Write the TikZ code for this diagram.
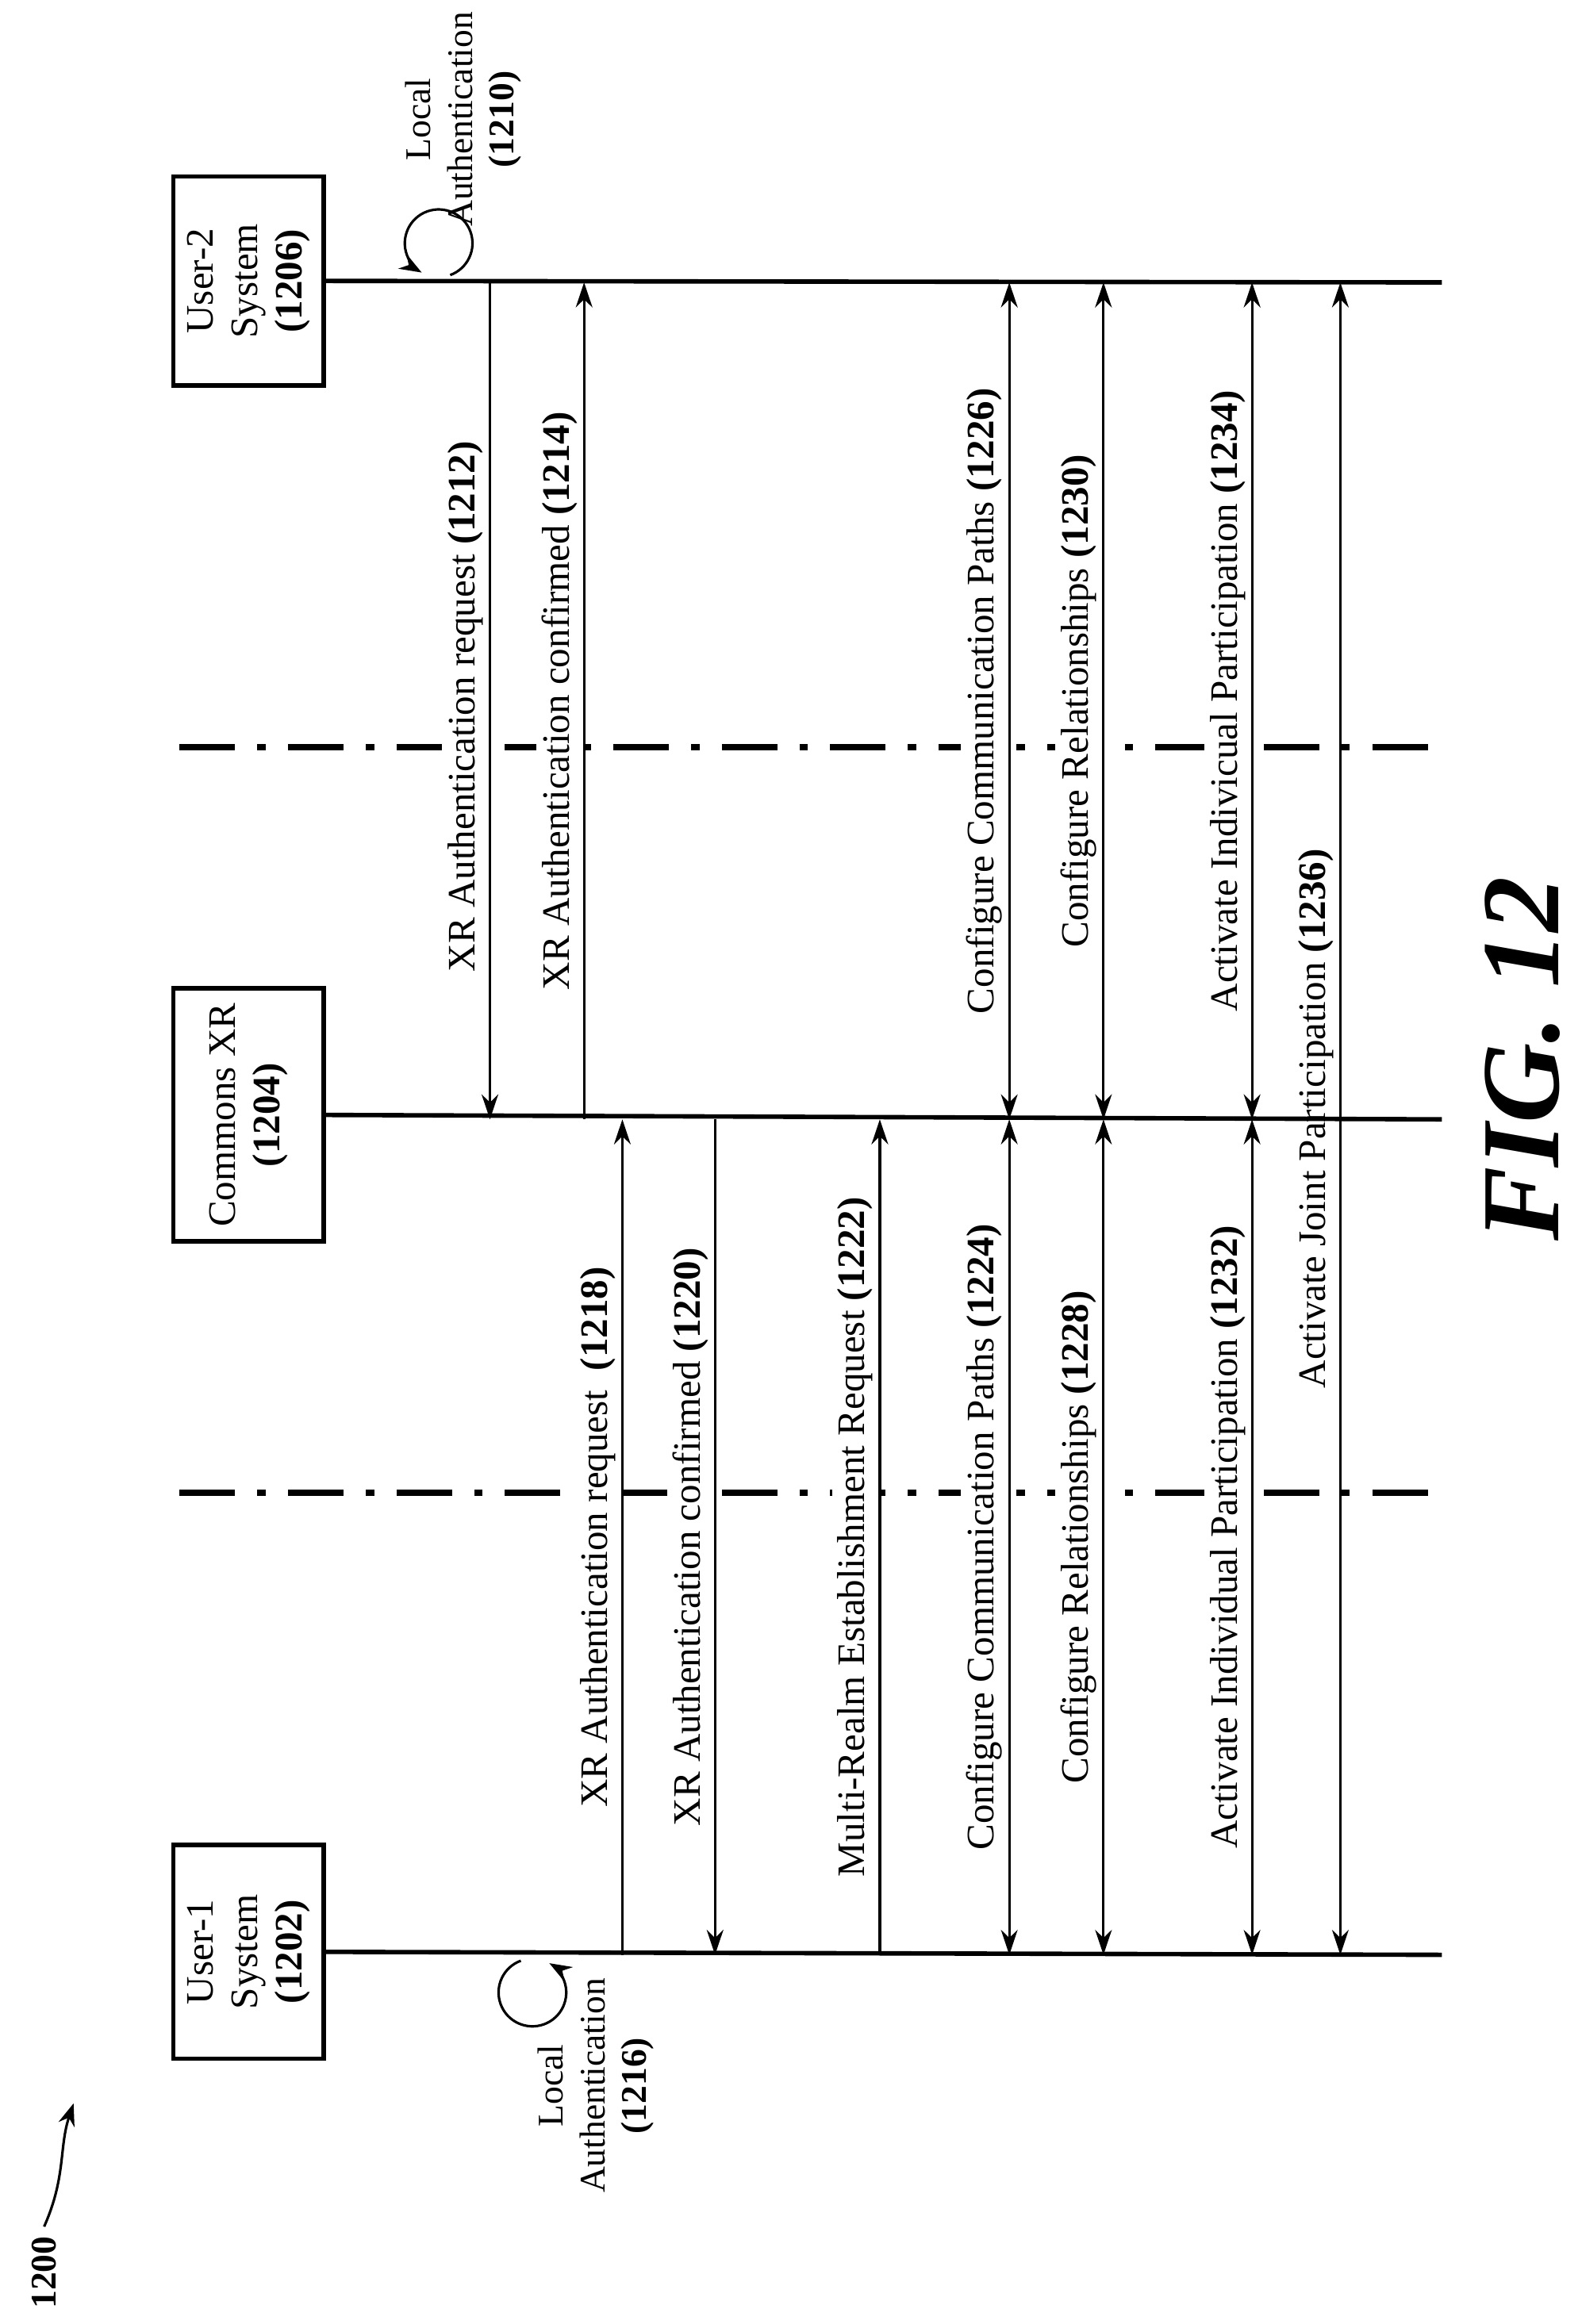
\documentclass[tikz,border=0pt]{standalone}
\usepackage{fontspec}
\setmainfont{Liberation Serif}
\usetikzlibrary{arrows.meta}

\begin{document}
\begin{tikzpicture}[x=0.0186cm,y=-0.0186cm,
  lbl/.style={rotate=90,font=\fontsize{14}{16}\selectfont,fill=white,inner sep=2pt},
  actor/.style={draw,line width=1.6pt,rotate=90,align=center,minimum height=1.9cm,font=\fontsize{14}{16}\selectfont},
  life/.style={line width=1.6pt},
  msg/.style={line width=0.9pt,-{Stealth[length=9pt,width=6pt]}},
  both/.style={line width=0.9pt,{Stealth[length=9pt,width=6pt]}-{Stealth[length=9pt,width=6pt]}},
  sep/.style={line width=2.2pt,dash pattern=on 20pt off 8pt on 3pt off 8pt}]
\useasboundingbox (0,0) rectangle (1075,1580);
% actors
\node[actor,minimum width=2.64cm] (u2) at (169,191) {User-2\\System\\\textbf{(1206)}};
\node[actor,minimum width=3.2cm] (cx) at (169,758) {Commons XR\\\textbf{(1204)}};
\node[actor,minimum width=2.7cm] (u1) at (169,1327) {User-1\\System\\\textbf{(1202)}};
\coordinate (u2e) at (980,192);
\coordinate (cxe) at (980,761);
\coordinate (u1e) at (980,1329);
\draw[life] (u2.south) -- (u2e);
\draw[life] (cx.south) -- (cxe);
\draw[life] (u1.south) -- (u1e);
% separators
\draw[sep] (122,508) -- (980,508);
\draw[sep] (122,1015) -- (980,1015);
% local authentication
\draw[line width=0.9pt,-{Stealth[length=8pt,width=6pt]}] (306,187) arc[start angle=70,end angle=-240,radius=23];
\node[lbl,align=center,fill=none,anchor=east,font=\fontsize{13}{15}\selectfont] (la2) at (315,4) {Local\\Authentication\\\textbf{(1210)}};
\draw[line width=0.9pt,-{Stealth[length=8pt,width=6pt]}] (354,1333) arc[start angle=250,end angle=-60,radius=23];
\node[lbl,align=center,fill=none,font=\fontsize{13}{15}\selectfont] (la1) at (405,1418) {Local\\Authentication\\\textbf{(1216)}};
% messages User-2 -- Commons
\draw[msg] (333,192) -- (333,761) node[lbl,midway,above,xshift=-2pt] {XR Authentication request \textbf{(1212)}};
\draw[msg] (397,761) -- (397,192) node[lbl,midway,above] {XR Authentication confirmed \textbf{(1214)}};
\draw[both] (686,192) -- (686,761) node[lbl,midway,above] {Configure Communication Paths \textbf{(1226)}};
\draw[both] (750,192) -- (750,761) node[lbl,midway,above] {Configure Relationships \textbf{(1230)}};
\draw[both] (851,192) -- (851,761) node[lbl,midway,above] {Activate Indivicual Participation \textbf{(1234)}};
% messages User-1 -- Commons
\draw[msg] (423,1329) -- (423,761) node[lbl,midway,above] {XR Authentication request\ \ \textbf{(1218)}};
\draw[msg] (486,761) -- (486,1329) node[lbl,midway,above] {XR Authentication confirmed \textbf{(1220)}};
\draw[msg] (598,1329) -- (598,761) node[lbl,midway,above] {Multi-Realm Establishment Request \textbf{(1222)}};
\draw[both] (686,761) -- (686,1329) node[lbl,midway,above] {Configure Communication Paths \textbf{(1224)}};
\draw[both] (750,761) -- (750,1329) node[lbl,midway,above] {Configure Relationships \textbf{(1228)}};
\draw[both] (851,761) -- (851,1329) node[lbl,midway,above] {Activate Individual Participation \textbf{(1232)}};
\draw[both] (911,192) -- (911,1329) node[lbl,midway,above,fill=none] {Activate Joint Participation \textbf{(1236)}};
% figure labels
\node[rotate=90,font=\fontsize{13}{15}\selectfont\bfseries] (ref) at (30,1545) {1200};
\draw[line width=0.9pt,-{Stealth[length=8pt,width=6pt]}] (ref.east) .. controls (45,1480) and (40,1460) .. (50,1430);
\node[rotate=90,font=\fontsize{40}{44}\selectfont\bfseries\itshape] (fig) at (1035,720) {FIG. 12};
\end{tikzpicture}
\end{document}
